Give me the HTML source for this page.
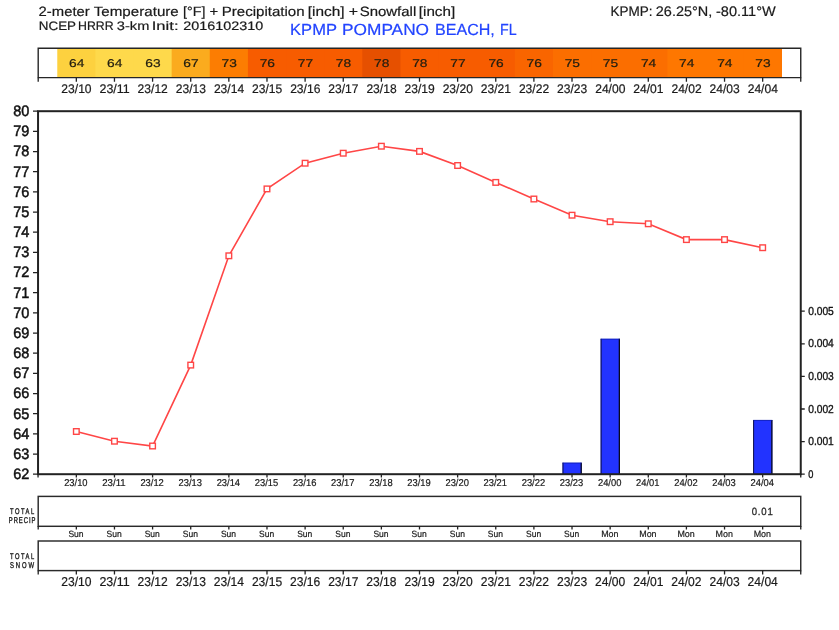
<!DOCTYPE html><html><head><meta charset="utf-8"><style>html,body{margin:0;padding:0;background:#fff;overflow:hidden}svg{display:block;will-change:transform}text{text-rendering:geometricPrecision;font-family:"Liberation Sans",sans-serif}</style></head><body>
<svg width="839" height="630" viewBox="0 0 839 630">
<text x="38.62" y="15.73" font-size="13.48" fill="#1a1a1a" textLength="51.11" lengthAdjust="spacingAndGlyphs" stroke="#1a1a1a" stroke-width="0.2">2-meter</text>
<text x="93.74" y="15.73" font-size="13.48" fill="#1a1a1a" textLength="85.04" lengthAdjust="spacingAndGlyphs" stroke="#1a1a1a" stroke-width="0.2">Temperature</text>
<text x="183.14" y="15.73" font-size="13.48" fill="#1a1a1a" textLength="22.31" lengthAdjust="spacingAndGlyphs" stroke="#1a1a1a" stroke-width="0.2">[°F]</text>
<text x="209.40" y="15.73" font-size="13.48" fill="#1a1a1a" textLength="8.70" lengthAdjust="spacingAndGlyphs" stroke="#1a1a1a" stroke-width="0.2">+</text>
<text x="221.74" y="15.73" font-size="13.48" fill="#1a1a1a" textLength="82.85" lengthAdjust="spacingAndGlyphs" stroke="#1a1a1a" stroke-width="0.2">Precipitation</text>
<text x="307.69" y="15.73" font-size="13.48" fill="#1a1a1a" textLength="36.78" lengthAdjust="spacingAndGlyphs" stroke="#1a1a1a" stroke-width="0.2">[inch]</text>
<text x="348.66" y="15.73" font-size="13.48" fill="#1a1a1a" textLength="9.28" lengthAdjust="spacingAndGlyphs" stroke="#1a1a1a" stroke-width="0.2">+</text>
<text x="359.69" y="15.73" font-size="13.48" fill="#1a1a1a" textLength="56.56" lengthAdjust="spacingAndGlyphs" stroke="#1a1a1a" stroke-width="0.2">Snowfall</text>
<text x="418.82" y="15.73" font-size="13.48" fill="#1a1a1a" textLength="36.31" lengthAdjust="spacingAndGlyphs" stroke="#1a1a1a" stroke-width="0.2">[inch]</text>
<text x="38.87" y="30.18" font-size="12.22" fill="#1a1a1a" textLength="37.20" lengthAdjust="spacingAndGlyphs" stroke="#1a1a1a" stroke-width="0.2">NCEP</text>
<text x="77.98" y="30.18" font-size="12.22" fill="#1a1a1a" textLength="35.63" lengthAdjust="spacingAndGlyphs" stroke="#1a1a1a" stroke-width="0.2">HRRR</text>
<text x="116.87" y="30.18" font-size="12.22" fill="#1a1a1a" textLength="32.45" lengthAdjust="spacingAndGlyphs" stroke="#1a1a1a" stroke-width="0.2">3-km</text>
<text x="151.76" y="30.18" font-size="12.22" fill="#1a1a1a" textLength="26.78" lengthAdjust="spacingAndGlyphs" stroke="#1a1a1a" stroke-width="0.2">Init:</text>
<text x="183.33" y="30.18" font-size="12.22" fill="#1a1a1a" textLength="79.92" lengthAdjust="spacingAndGlyphs" stroke="#1a1a1a" stroke-width="0.2">2016102310</text>
<text x="290.08" y="34.99" font-size="16.10" fill="#2244ff" textLength="46.88" lengthAdjust="spacingAndGlyphs" stroke="#2244ff" stroke-width="0.2">KPMP</text>
<text x="342.06" y="34.99" font-size="16.10" fill="#2244ff" textLength="86.99" lengthAdjust="spacingAndGlyphs" stroke="#2244ff" stroke-width="0.2">POMPANO</text>
<text x="435.02" y="34.99" font-size="16.10" fill="#2244ff" textLength="59.78" lengthAdjust="spacingAndGlyphs" stroke="#2244ff" stroke-width="0.2">BEACH,</text>
<text x="500.06" y="34.99" font-size="16.10" fill="#2244ff" textLength="16.68" lengthAdjust="spacingAndGlyphs" stroke="#2244ff" stroke-width="0.2">FL</text>
<text x="610.48" y="15.99" font-size="13.86" fill="#1a1a1a" textLength="42.10" lengthAdjust="spacingAndGlyphs" stroke="#1a1a1a" stroke-width="0.2">KPMP:</text>
<text x="655.81" y="15.99" font-size="13.86" fill="#1a1a1a" textLength="56.47" lengthAdjust="spacingAndGlyphs" stroke="#1a1a1a" stroke-width="0.2">26.25°N,</text>
<text x="716.02" y="15.99" font-size="13.86" fill="#1a1a1a" textLength="59.71" lengthAdjust="spacingAndGlyphs" stroke="#1a1a1a" stroke-width="0.2">-80.11°W</text>
<rect x="57.27" y="48.5" width="724.47" height="29" fill="#fdd13f"/>
<rect x="95.40" y="48.5" width="686.34" height="29" fill="#fed94b"/>
<rect x="133.53" y="48.5" width="648.21" height="29" fill="#fed94b"/>
<rect x="171.66" y="48.5" width="610.08" height="29" fill="#fbab1e"/>
<rect x="209.79" y="48.5" width="571.95" height="29" fill="#fc7d02"/>
<rect x="247.92" y="48.5" width="533.82" height="29" fill="#f75c00"/>
<rect x="286.05" y="48.5" width="495.69" height="29" fill="#f75c00"/>
<rect x="324.18" y="48.5" width="457.56" height="29" fill="#f75c00"/>
<rect x="362.31" y="48.5" width="419.43" height="29" fill="#e65000"/>
<rect x="400.44" y="48.5" width="381.30" height="29" fill="#f75c00"/>
<rect x="438.56" y="48.5" width="343.17" height="29" fill="#f75c00"/>
<rect x="476.70" y="48.5" width="305.04" height="29" fill="#f75c00"/>
<rect x="514.83" y="48.5" width="266.91" height="29" fill="#f96500"/>
<rect x="552.96" y="48.5" width="228.78" height="29" fill="#fb6e00"/>
<rect x="591.09" y="48.5" width="190.65" height="29" fill="#fb6e00"/>
<rect x="629.22" y="48.5" width="152.52" height="29" fill="#fb6e00"/>
<rect x="667.35" y="48.5" width="114.39" height="29" fill="#fe7700"/>
<rect x="705.48" y="48.5" width="76.26" height="29" fill="#fe7700"/>
<rect x="743.61" y="48.5" width="38.13" height="29" fill="#fe7700"/>
<text x="76.64" y="66.96" font-size="11.33" fill="#221e10" text-anchor="middle" textLength="15.33" lengthAdjust="spacingAndGlyphs" stroke="#221e10" stroke-width="0.2">64</text>
<text x="114.77" y="66.96" font-size="11.33" fill="#221e10" text-anchor="middle" textLength="15.33" lengthAdjust="spacingAndGlyphs" stroke="#221e10" stroke-width="0.2">64</text>
<text x="152.90" y="66.96" font-size="11.33" fill="#221e10" text-anchor="middle" textLength="15.33" lengthAdjust="spacingAndGlyphs" stroke="#221e10" stroke-width="0.2">63</text>
<text x="191.03" y="66.96" font-size="11.33" fill="#221e10" text-anchor="middle" textLength="15.33" lengthAdjust="spacingAndGlyphs" stroke="#221e10" stroke-width="0.2">67</text>
<text x="229.16" y="66.96" font-size="11.33" fill="#221e10" text-anchor="middle" textLength="15.33" lengthAdjust="spacingAndGlyphs" stroke="#221e10" stroke-width="0.2">73</text>
<text x="267.29" y="66.96" font-size="11.33" fill="#221e10" text-anchor="middle" textLength="15.33" lengthAdjust="spacingAndGlyphs" stroke="#221e10" stroke-width="0.2">76</text>
<text x="305.42" y="66.96" font-size="11.33" fill="#221e10" text-anchor="middle" textLength="15.33" lengthAdjust="spacingAndGlyphs" stroke="#221e10" stroke-width="0.2">77</text>
<text x="343.55" y="66.96" font-size="11.33" fill="#221e10" text-anchor="middle" textLength="15.33" lengthAdjust="spacingAndGlyphs" stroke="#221e10" stroke-width="0.2">78</text>
<text x="381.68" y="66.96" font-size="11.33" fill="#221e10" text-anchor="middle" textLength="15.33" lengthAdjust="spacingAndGlyphs" stroke="#221e10" stroke-width="0.2">78</text>
<text x="419.81" y="66.96" font-size="11.33" fill="#221e10" text-anchor="middle" textLength="15.33" lengthAdjust="spacingAndGlyphs" stroke="#221e10" stroke-width="0.2">78</text>
<text x="457.94" y="66.96" font-size="11.33" fill="#221e10" text-anchor="middle" textLength="15.33" lengthAdjust="spacingAndGlyphs" stroke="#221e10" stroke-width="0.2">77</text>
<text x="496.07" y="66.96" font-size="11.33" fill="#221e10" text-anchor="middle" textLength="15.33" lengthAdjust="spacingAndGlyphs" stroke="#221e10" stroke-width="0.2">76</text>
<text x="534.20" y="66.96" font-size="11.33" fill="#221e10" text-anchor="middle" textLength="15.33" lengthAdjust="spacingAndGlyphs" stroke="#221e10" stroke-width="0.2">76</text>
<text x="572.33" y="66.96" font-size="11.33" fill="#221e10" text-anchor="middle" textLength="15.33" lengthAdjust="spacingAndGlyphs" stroke="#221e10" stroke-width="0.2">75</text>
<text x="610.46" y="66.96" font-size="11.33" fill="#221e10" text-anchor="middle" textLength="15.33" lengthAdjust="spacingAndGlyphs" stroke="#221e10" stroke-width="0.2">75</text>
<text x="648.59" y="66.96" font-size="11.33" fill="#221e10" text-anchor="middle" textLength="15.33" lengthAdjust="spacingAndGlyphs" stroke="#221e10" stroke-width="0.2">74</text>
<text x="686.72" y="66.96" font-size="11.33" fill="#221e10" text-anchor="middle" textLength="15.33" lengthAdjust="spacingAndGlyphs" stroke="#221e10" stroke-width="0.2">74</text>
<text x="724.85" y="66.96" font-size="11.33" fill="#221e10" text-anchor="middle" textLength="15.33" lengthAdjust="spacingAndGlyphs" stroke="#221e10" stroke-width="0.2">74</text>
<text x="762.98" y="66.96" font-size="11.33" fill="#221e10" text-anchor="middle" textLength="15.33" lengthAdjust="spacingAndGlyphs" stroke="#221e10" stroke-width="0.2">73</text>
<path d="M38.2 48.3H800.75V77.6H38.2Z" fill="none" stroke="#262626" stroke-width="1.4"/>
<path d="M38.2 77.6V81.7 M800.75 77.6V81.7 M76.33 77.6V81.7 M114.46 77.6V81.7 M152.59 77.6V81.7 M190.72 77.6V81.7 M228.85 77.6V81.7 M266.98 77.6V81.7 M305.11 77.6V81.7 M343.24 77.6V81.7 M381.37 77.6V81.7 M419.50 77.6V81.7 M457.63 77.6V81.7 M495.76 77.6V81.7 M533.89 77.6V81.7 M572.02 77.6V81.7 M610.15 77.6V81.7 M648.28 77.6V81.7 M686.41 77.6V81.7 M724.54 77.6V81.7 M762.67 77.6V81.7 " stroke="#222" stroke-width="1.3" fill="none"/>
<text x="76.47" y="92.72" font-size="12.48" fill="#1a1a1a" text-anchor="middle" textLength="30.22" lengthAdjust="spacingAndGlyphs" stroke="#1a1a1a" stroke-width="0.2">23/10</text>
<text x="114.60" y="92.72" font-size="12.48" fill="#1a1a1a" text-anchor="middle" textLength="30.22" lengthAdjust="spacingAndGlyphs" stroke="#1a1a1a" stroke-width="0.2">23/11</text>
<text x="152.73" y="92.72" font-size="12.48" fill="#1a1a1a" text-anchor="middle" textLength="30.22" lengthAdjust="spacingAndGlyphs" stroke="#1a1a1a" stroke-width="0.2">23/12</text>
<text x="190.86" y="92.72" font-size="12.48" fill="#1a1a1a" text-anchor="middle" textLength="30.22" lengthAdjust="spacingAndGlyphs" stroke="#1a1a1a" stroke-width="0.2">23/13</text>
<text x="228.99" y="92.72" font-size="12.48" fill="#1a1a1a" text-anchor="middle" textLength="30.22" lengthAdjust="spacingAndGlyphs" stroke="#1a1a1a" stroke-width="0.2">23/14</text>
<text x="267.12" y="92.72" font-size="12.48" fill="#1a1a1a" text-anchor="middle" textLength="30.22" lengthAdjust="spacingAndGlyphs" stroke="#1a1a1a" stroke-width="0.2">23/15</text>
<text x="305.25" y="92.72" font-size="12.48" fill="#1a1a1a" text-anchor="middle" textLength="30.22" lengthAdjust="spacingAndGlyphs" stroke="#1a1a1a" stroke-width="0.2">23/16</text>
<text x="343.38" y="92.72" font-size="12.48" fill="#1a1a1a" text-anchor="middle" textLength="30.22" lengthAdjust="spacingAndGlyphs" stroke="#1a1a1a" stroke-width="0.2">23/17</text>
<text x="381.51" y="92.72" font-size="12.48" fill="#1a1a1a" text-anchor="middle" textLength="30.22" lengthAdjust="spacingAndGlyphs" stroke="#1a1a1a" stroke-width="0.2">23/18</text>
<text x="419.64" y="92.72" font-size="12.48" fill="#1a1a1a" text-anchor="middle" textLength="30.22" lengthAdjust="spacingAndGlyphs" stroke="#1a1a1a" stroke-width="0.2">23/19</text>
<text x="457.77" y="92.72" font-size="12.48" fill="#1a1a1a" text-anchor="middle" textLength="30.22" lengthAdjust="spacingAndGlyphs" stroke="#1a1a1a" stroke-width="0.2">23/20</text>
<text x="495.90" y="92.72" font-size="12.48" fill="#1a1a1a" text-anchor="middle" textLength="30.22" lengthAdjust="spacingAndGlyphs" stroke="#1a1a1a" stroke-width="0.2">23/21</text>
<text x="534.03" y="92.72" font-size="12.48" fill="#1a1a1a" text-anchor="middle" textLength="30.22" lengthAdjust="spacingAndGlyphs" stroke="#1a1a1a" stroke-width="0.2">23/22</text>
<text x="572.16" y="92.72" font-size="12.48" fill="#1a1a1a" text-anchor="middle" textLength="30.22" lengthAdjust="spacingAndGlyphs" stroke="#1a1a1a" stroke-width="0.2">23/23</text>
<text x="610.29" y="92.72" font-size="12.48" fill="#1a1a1a" text-anchor="middle" textLength="30.22" lengthAdjust="spacingAndGlyphs" stroke="#1a1a1a" stroke-width="0.2">24/00</text>
<text x="648.42" y="92.72" font-size="12.48" fill="#1a1a1a" text-anchor="middle" textLength="30.22" lengthAdjust="spacingAndGlyphs" stroke="#1a1a1a" stroke-width="0.2">24/01</text>
<text x="686.55" y="92.72" font-size="12.48" fill="#1a1a1a" text-anchor="middle" textLength="30.22" lengthAdjust="spacingAndGlyphs" stroke="#1a1a1a" stroke-width="0.2">24/02</text>
<text x="724.68" y="92.72" font-size="12.48" fill="#1a1a1a" text-anchor="middle" textLength="30.22" lengthAdjust="spacingAndGlyphs" stroke="#1a1a1a" stroke-width="0.2">24/03</text>
<text x="762.81" y="92.72" font-size="12.48" fill="#1a1a1a" text-anchor="middle" textLength="30.22" lengthAdjust="spacingAndGlyphs" stroke="#1a1a1a" stroke-width="0.2">24/04</text>
<rect x="562.52" y="462.70" width="19.10" height="11.50" fill="#2233ff"/>
<path d="M562.97 474.2V462.70" stroke="#0a0a30" stroke-width="0.9" fill="none"/>
<path d="M581.22 474.2V462.70" stroke="#0a0a20" stroke-width="1.3" fill="none"/>
<path d="M562.52 463.05H581.62" stroke="#0b1aa0" stroke-width="0.7" fill="none"/>
<rect x="600.65" y="338.80" width="19.10" height="135.40" fill="#2233ff"/>
<path d="M601.10 474.2V338.80" stroke="#0a0a30" stroke-width="0.9" fill="none"/>
<path d="M619.35 474.2V338.80" stroke="#0a0a20" stroke-width="1.3" fill="none"/>
<path d="M600.65 339.15H619.75" stroke="#0b1aa0" stroke-width="0.7" fill="none"/>
<rect x="753.17" y="420.00" width="19.10" height="54.20" fill="#2233ff"/>
<path d="M753.62 474.2V420.00" stroke="#0a0a30" stroke-width="0.9" fill="none"/>
<path d="M771.87 474.2V420.00" stroke="#0a0a20" stroke-width="1.3" fill="none"/>
<path d="M753.17 420.35H772.27" stroke="#0b1aa0" stroke-width="0.7" fill="none"/>
<polyline points="76.33,431.51 114.46,441.21 152.59,446.01 190.72,365.10 228.85,255.80 266.98,188.90 305.11,163.21 343.24,153.21 381.37,146.21 419.50,151.39 457.63,165.51 495.76,182.41 533.89,199.01 572.02,215.20 610.15,221.69 648.28,223.79 686.41,239.60 724.54,239.60 762.67,247.71" fill="none" stroke="#ff4646" stroke-width="1.6"/>
<rect x="73.53" y="428.71" width="5.6" height="5.6" fill="#fff" stroke="#ff4646" stroke-width="1.4"/>
<rect x="111.66" y="438.41" width="5.6" height="5.6" fill="#fff" stroke="#ff4646" stroke-width="1.4"/>
<rect x="149.79" y="443.21" width="5.6" height="5.6" fill="#fff" stroke="#ff4646" stroke-width="1.4"/>
<rect x="187.92" y="362.30" width="5.6" height="5.6" fill="#fff" stroke="#ff4646" stroke-width="1.4"/>
<rect x="226.05" y="253.00" width="5.6" height="5.6" fill="#fff" stroke="#ff4646" stroke-width="1.4"/>
<rect x="264.18" y="186.10" width="5.6" height="5.6" fill="#fff" stroke="#ff4646" stroke-width="1.4"/>
<rect x="302.31" y="160.41" width="5.6" height="5.6" fill="#fff" stroke="#ff4646" stroke-width="1.4"/>
<rect x="340.44" y="150.41" width="5.6" height="5.6" fill="#fff" stroke="#ff4646" stroke-width="1.4"/>
<rect x="378.57" y="143.41" width="5.6" height="5.6" fill="#fff" stroke="#ff4646" stroke-width="1.4"/>
<rect x="416.70" y="148.59" width="5.6" height="5.6" fill="#fff" stroke="#ff4646" stroke-width="1.4"/>
<rect x="454.83" y="162.71" width="5.6" height="5.6" fill="#fff" stroke="#ff4646" stroke-width="1.4"/>
<rect x="492.96" y="179.61" width="5.6" height="5.6" fill="#fff" stroke="#ff4646" stroke-width="1.4"/>
<rect x="531.09" y="196.21" width="5.6" height="5.6" fill="#fff" stroke="#ff4646" stroke-width="1.4"/>
<rect x="569.22" y="212.40" width="5.6" height="5.6" fill="#fff" stroke="#ff4646" stroke-width="1.4"/>
<rect x="607.35" y="218.89" width="5.6" height="5.6" fill="#fff" stroke="#ff4646" stroke-width="1.4"/>
<rect x="645.48" y="220.99" width="5.6" height="5.6" fill="#fff" stroke="#ff4646" stroke-width="1.4"/>
<rect x="683.61" y="236.80" width="5.6" height="5.6" fill="#fff" stroke="#ff4646" stroke-width="1.4"/>
<rect x="721.74" y="236.80" width="5.6" height="5.6" fill="#fff" stroke="#ff4646" stroke-width="1.4"/>
<rect x="759.87" y="244.91" width="5.6" height="5.6" fill="#fff" stroke="#ff4646" stroke-width="1.4"/>
<rect x="38.05" y="111.2" width="762.70" height="363.00" fill="none" stroke="#222" stroke-width="2"/>
<path d="M33.0 474.20H38.1 M33.0 454.03H38.1 M33.0 433.87H38.1 M33.0 413.70H38.1 M33.0 393.53H38.1 M33.0 373.37H38.1 M33.0 353.20H38.1 M33.0 333.03H38.1 M33.0 312.87H38.1 M33.0 292.70H38.1 M33.0 272.53H38.1 M33.0 252.37H38.1 M33.0 232.20H38.1 M33.0 212.03H38.1 M33.0 191.87H38.1 M33.0 171.70H38.1 M33.0 151.53H38.1 M33.0 131.37H38.1 M33.0 111.20H38.1 M800.75 474.20H804.75 M800.75 441.60H804.75 M800.75 409.00H804.75 M800.75 376.40H804.75 M800.75 343.80H804.75 M800.75 311.20H804.75 M76.33 474.2V477.6 M114.46 474.2V477.6 M152.59 474.2V477.6 M190.72 474.2V477.6 M228.85 474.2V477.6 M266.98 474.2V477.6 M305.11 474.2V477.6 M343.24 474.2V477.6 M381.37 474.2V477.6 M419.50 474.2V477.6 M457.63 474.2V477.6 M495.76 474.2V477.6 M533.89 474.2V477.6 M572.02 474.2V477.6 M610.15 474.2V477.6 M648.28 474.2V477.6 M686.41 474.2V477.6 M724.54 474.2V477.6 M762.67 474.2V477.6 M38.05 474.2V477.6 M800.75 474.2V477.6" stroke="#222" stroke-width="1.3" fill="none"/>
<text x="29.44" y="479.08" font-size="15.23" fill="#111" text-anchor="end" textLength="16.13" lengthAdjust="spacingAndGlyphs" stroke="#111" stroke-width="0.5">62</text>
<text x="29.44" y="458.91" font-size="15.23" fill="#111" text-anchor="end" textLength="16.13" lengthAdjust="spacingAndGlyphs" stroke="#111" stroke-width="0.5">63</text>
<text x="29.44" y="438.75" font-size="15.23" fill="#111" text-anchor="end" textLength="16.13" lengthAdjust="spacingAndGlyphs" stroke="#111" stroke-width="0.5">64</text>
<text x="29.44" y="418.58" font-size="15.23" fill="#111" text-anchor="end" textLength="16.13" lengthAdjust="spacingAndGlyphs" stroke="#111" stroke-width="0.5">65</text>
<text x="29.44" y="398.41" font-size="15.23" fill="#111" text-anchor="end" textLength="16.13" lengthAdjust="spacingAndGlyphs" stroke="#111" stroke-width="0.5">66</text>
<text x="29.44" y="378.25" font-size="15.23" fill="#111" text-anchor="end" textLength="16.13" lengthAdjust="spacingAndGlyphs" stroke="#111" stroke-width="0.5">67</text>
<text x="29.44" y="358.08" font-size="15.23" fill="#111" text-anchor="end" textLength="16.13" lengthAdjust="spacingAndGlyphs" stroke="#111" stroke-width="0.5">68</text>
<text x="29.44" y="337.91" font-size="15.23" fill="#111" text-anchor="end" textLength="16.13" lengthAdjust="spacingAndGlyphs" stroke="#111" stroke-width="0.5">69</text>
<text x="29.44" y="317.75" font-size="15.23" fill="#111" text-anchor="end" textLength="16.13" lengthAdjust="spacingAndGlyphs" stroke="#111" stroke-width="0.5">70</text>
<text x="29.44" y="297.58" font-size="15.23" fill="#111" text-anchor="end" textLength="16.13" lengthAdjust="spacingAndGlyphs" stroke="#111" stroke-width="0.5">71</text>
<text x="29.44" y="277.41" font-size="15.23" fill="#111" text-anchor="end" textLength="16.13" lengthAdjust="spacingAndGlyphs" stroke="#111" stroke-width="0.5">72</text>
<text x="29.44" y="257.25" font-size="15.23" fill="#111" text-anchor="end" textLength="16.13" lengthAdjust="spacingAndGlyphs" stroke="#111" stroke-width="0.5">73</text>
<text x="29.44" y="237.08" font-size="15.23" fill="#111" text-anchor="end" textLength="16.13" lengthAdjust="spacingAndGlyphs" stroke="#111" stroke-width="0.5">74</text>
<text x="29.44" y="216.91" font-size="15.23" fill="#111" text-anchor="end" textLength="16.13" lengthAdjust="spacingAndGlyphs" stroke="#111" stroke-width="0.5">75</text>
<text x="29.44" y="196.75" font-size="15.23" fill="#111" text-anchor="end" textLength="16.13" lengthAdjust="spacingAndGlyphs" stroke="#111" stroke-width="0.5">76</text>
<text x="29.44" y="176.58" font-size="15.23" fill="#111" text-anchor="end" textLength="16.13" lengthAdjust="spacingAndGlyphs" stroke="#111" stroke-width="0.5">77</text>
<text x="29.44" y="156.41" font-size="15.23" fill="#111" text-anchor="end" textLength="16.13" lengthAdjust="spacingAndGlyphs" stroke="#111" stroke-width="0.5">78</text>
<text x="29.44" y="136.25" font-size="15.23" fill="#111" text-anchor="end" textLength="16.13" lengthAdjust="spacingAndGlyphs" stroke="#111" stroke-width="0.5">79</text>
<text x="29.44" y="116.08" font-size="15.23" fill="#111" text-anchor="end" textLength="16.13" lengthAdjust="spacingAndGlyphs" stroke="#111" stroke-width="0.5">80</text>
<text x="808.19" y="477.71" font-size="11.07" fill="#111" textLength="5.15" lengthAdjust="spacingAndGlyphs" stroke="#111" stroke-width="0.35">0</text>
<text x="808.20" y="445.25" font-size="11.57" fill="#111" textLength="25.59" lengthAdjust="spacingAndGlyphs" stroke="#111" stroke-width="0.35">0.001</text>
<text x="808.20" y="412.65" font-size="11.57" fill="#111" textLength="25.59" lengthAdjust="spacingAndGlyphs" stroke="#111" stroke-width="0.35">0.002</text>
<text x="808.20" y="380.05" font-size="11.57" fill="#111" textLength="25.59" lengthAdjust="spacingAndGlyphs" stroke="#111" stroke-width="0.35">0.003</text>
<text x="808.20" y="347.45" font-size="11.57" fill="#111" textLength="25.59" lengthAdjust="spacingAndGlyphs" stroke="#111" stroke-width="0.35">0.004</text>
<text x="808.20" y="314.85" font-size="11.57" fill="#111" textLength="25.59" lengthAdjust="spacingAndGlyphs" stroke="#111" stroke-width="0.35">0.005</text>
<text x="75.86" y="485.62" font-size="9.90" fill="#1a1a1a" text-anchor="middle" textLength="23.45" lengthAdjust="spacingAndGlyphs" stroke="#1a1a1a" stroke-width="0.2">23/10</text>
<text x="113.99" y="485.62" font-size="9.90" fill="#1a1a1a" text-anchor="middle" textLength="23.45" lengthAdjust="spacingAndGlyphs" stroke="#1a1a1a" stroke-width="0.2">23/11</text>
<text x="152.12" y="485.62" font-size="9.90" fill="#1a1a1a" text-anchor="middle" textLength="23.45" lengthAdjust="spacingAndGlyphs" stroke="#1a1a1a" stroke-width="0.2">23/12</text>
<text x="190.25" y="485.62" font-size="9.90" fill="#1a1a1a" text-anchor="middle" textLength="23.45" lengthAdjust="spacingAndGlyphs" stroke="#1a1a1a" stroke-width="0.2">23/13</text>
<text x="228.38" y="485.62" font-size="9.90" fill="#1a1a1a" text-anchor="middle" textLength="23.45" lengthAdjust="spacingAndGlyphs" stroke="#1a1a1a" stroke-width="0.2">23/14</text>
<text x="266.51" y="485.62" font-size="9.90" fill="#1a1a1a" text-anchor="middle" textLength="23.45" lengthAdjust="spacingAndGlyphs" stroke="#1a1a1a" stroke-width="0.2">23/15</text>
<text x="304.64" y="485.62" font-size="9.90" fill="#1a1a1a" text-anchor="middle" textLength="23.45" lengthAdjust="spacingAndGlyphs" stroke="#1a1a1a" stroke-width="0.2">23/16</text>
<text x="342.77" y="485.62" font-size="9.90" fill="#1a1a1a" text-anchor="middle" textLength="23.45" lengthAdjust="spacingAndGlyphs" stroke="#1a1a1a" stroke-width="0.2">23/17</text>
<text x="380.90" y="485.62" font-size="9.90" fill="#1a1a1a" text-anchor="middle" textLength="23.45" lengthAdjust="spacingAndGlyphs" stroke="#1a1a1a" stroke-width="0.2">23/18</text>
<text x="419.03" y="485.62" font-size="9.90" fill="#1a1a1a" text-anchor="middle" textLength="23.45" lengthAdjust="spacingAndGlyphs" stroke="#1a1a1a" stroke-width="0.2">23/19</text>
<text x="457.16" y="485.62" font-size="9.90" fill="#1a1a1a" text-anchor="middle" textLength="23.45" lengthAdjust="spacingAndGlyphs" stroke="#1a1a1a" stroke-width="0.2">23/20</text>
<text x="495.29" y="485.62" font-size="9.90" fill="#1a1a1a" text-anchor="middle" textLength="23.45" lengthAdjust="spacingAndGlyphs" stroke="#1a1a1a" stroke-width="0.2">23/21</text>
<text x="533.42" y="485.62" font-size="9.90" fill="#1a1a1a" text-anchor="middle" textLength="23.45" lengthAdjust="spacingAndGlyphs" stroke="#1a1a1a" stroke-width="0.2">23/22</text>
<text x="571.55" y="485.62" font-size="9.90" fill="#1a1a1a" text-anchor="middle" textLength="23.45" lengthAdjust="spacingAndGlyphs" stroke="#1a1a1a" stroke-width="0.2">23/23</text>
<text x="609.68" y="485.62" font-size="9.90" fill="#1a1a1a" text-anchor="middle" textLength="23.45" lengthAdjust="spacingAndGlyphs" stroke="#1a1a1a" stroke-width="0.2">24/00</text>
<text x="647.81" y="485.62" font-size="9.90" fill="#1a1a1a" text-anchor="middle" textLength="23.45" lengthAdjust="spacingAndGlyphs" stroke="#1a1a1a" stroke-width="0.2">24/01</text>
<text x="685.94" y="485.62" font-size="9.90" fill="#1a1a1a" text-anchor="middle" textLength="23.45" lengthAdjust="spacingAndGlyphs" stroke="#1a1a1a" stroke-width="0.2">24/02</text>
<text x="724.07" y="485.62" font-size="9.90" fill="#1a1a1a" text-anchor="middle" textLength="23.45" lengthAdjust="spacingAndGlyphs" stroke="#1a1a1a" stroke-width="0.2">24/03</text>
<text x="762.20" y="485.62" font-size="9.90" fill="#1a1a1a" text-anchor="middle" textLength="23.45" lengthAdjust="spacingAndGlyphs" stroke="#1a1a1a" stroke-width="0.2">24/04</text>
<rect x="38.2" y="496.4" width="762.55" height="29.90" fill="none" stroke="#2a2a2a" stroke-width="1.45"/>
<rect x="38.2" y="541.0" width="762.55" height="29.60" fill="none" stroke="#2a2a2a" stroke-width="1.45"/>
<path d="M38.2 526V529.4 M800.75 526V529.4 M38.2 570.6V574.6 M800.75 570.6V574.6 M76.33 526V529.4 M76.33 570.6V574.6 M114.46 526V529.4 M114.46 570.6V574.6 M152.59 526V529.4 M152.59 570.6V574.6 M190.72 526V529.4 M190.72 570.6V574.6 M228.85 526V529.4 M228.85 570.6V574.6 M266.98 526V529.4 M266.98 570.6V574.6 M305.11 526V529.4 M305.11 570.6V574.6 M343.24 526V529.4 M343.24 570.6V574.6 M381.37 526V529.4 M381.37 570.6V574.6 M419.50 526V529.4 M419.50 570.6V574.6 M457.63 526V529.4 M457.63 570.6V574.6 M495.76 526V529.4 M495.76 570.6V574.6 M533.89 526V529.4 M533.89 570.6V574.6 M572.02 526V529.4 M572.02 570.6V574.6 M610.15 526V529.4 M610.15 570.6V574.6 M648.28 526V529.4 M648.28 570.6V574.6 M686.41 526V529.4 M686.41 570.6V574.6 M724.54 526V529.4 M724.54 570.6V574.6 M762.67 526V529.4 M762.67 570.6V574.6 " stroke="#222" stroke-width="1.3" fill="none"/>
<text x="75.99" y="537.42" font-size="9.11" fill="#1a1a1a" text-anchor="middle" textLength="15.17" lengthAdjust="spacingAndGlyphs" stroke="#1a1a1a" stroke-width="0.2">Sun</text>
<text x="76.38" y="585.79" font-size="12.84" fill="#1a1a1a" text-anchor="middle" textLength="30.27" lengthAdjust="spacingAndGlyphs" stroke="#1a1a1a" stroke-width="0.2">23/10</text>
<text x="114.12" y="537.42" font-size="9.11" fill="#1a1a1a" text-anchor="middle" textLength="15.17" lengthAdjust="spacingAndGlyphs" stroke="#1a1a1a" stroke-width="0.2">Sun</text>
<text x="114.51" y="585.79" font-size="12.84" fill="#1a1a1a" text-anchor="middle" textLength="30.27" lengthAdjust="spacingAndGlyphs" stroke="#1a1a1a" stroke-width="0.2">23/11</text>
<text x="152.25" y="537.42" font-size="9.11" fill="#1a1a1a" text-anchor="middle" textLength="15.17" lengthAdjust="spacingAndGlyphs" stroke="#1a1a1a" stroke-width="0.2">Sun</text>
<text x="152.64" y="585.79" font-size="12.84" fill="#1a1a1a" text-anchor="middle" textLength="30.27" lengthAdjust="spacingAndGlyphs" stroke="#1a1a1a" stroke-width="0.2">23/12</text>
<text x="190.38" y="537.42" font-size="9.11" fill="#1a1a1a" text-anchor="middle" textLength="15.17" lengthAdjust="spacingAndGlyphs" stroke="#1a1a1a" stroke-width="0.2">Sun</text>
<text x="190.77" y="585.79" font-size="12.84" fill="#1a1a1a" text-anchor="middle" textLength="30.27" lengthAdjust="spacingAndGlyphs" stroke="#1a1a1a" stroke-width="0.2">23/13</text>
<text x="228.51" y="537.42" font-size="9.11" fill="#1a1a1a" text-anchor="middle" textLength="15.17" lengthAdjust="spacingAndGlyphs" stroke="#1a1a1a" stroke-width="0.2">Sun</text>
<text x="228.90" y="585.79" font-size="12.84" fill="#1a1a1a" text-anchor="middle" textLength="30.27" lengthAdjust="spacingAndGlyphs" stroke="#1a1a1a" stroke-width="0.2">23/14</text>
<text x="266.64" y="537.42" font-size="9.11" fill="#1a1a1a" text-anchor="middle" textLength="15.17" lengthAdjust="spacingAndGlyphs" stroke="#1a1a1a" stroke-width="0.2">Sun</text>
<text x="267.03" y="585.79" font-size="12.84" fill="#1a1a1a" text-anchor="middle" textLength="30.27" lengthAdjust="spacingAndGlyphs" stroke="#1a1a1a" stroke-width="0.2">23/15</text>
<text x="304.77" y="537.42" font-size="9.11" fill="#1a1a1a" text-anchor="middle" textLength="15.17" lengthAdjust="spacingAndGlyphs" stroke="#1a1a1a" stroke-width="0.2">Sun</text>
<text x="305.16" y="585.79" font-size="12.84" fill="#1a1a1a" text-anchor="middle" textLength="30.27" lengthAdjust="spacingAndGlyphs" stroke="#1a1a1a" stroke-width="0.2">23/16</text>
<text x="342.90" y="537.42" font-size="9.11" fill="#1a1a1a" text-anchor="middle" textLength="15.17" lengthAdjust="spacingAndGlyphs" stroke="#1a1a1a" stroke-width="0.2">Sun</text>
<text x="343.29" y="585.79" font-size="12.84" fill="#1a1a1a" text-anchor="middle" textLength="30.27" lengthAdjust="spacingAndGlyphs" stroke="#1a1a1a" stroke-width="0.2">23/17</text>
<text x="381.03" y="537.42" font-size="9.11" fill="#1a1a1a" text-anchor="middle" textLength="15.17" lengthAdjust="spacingAndGlyphs" stroke="#1a1a1a" stroke-width="0.2">Sun</text>
<text x="381.42" y="585.79" font-size="12.84" fill="#1a1a1a" text-anchor="middle" textLength="30.27" lengthAdjust="spacingAndGlyphs" stroke="#1a1a1a" stroke-width="0.2">23/18</text>
<text x="419.16" y="537.42" font-size="9.11" fill="#1a1a1a" text-anchor="middle" textLength="15.17" lengthAdjust="spacingAndGlyphs" stroke="#1a1a1a" stroke-width="0.2">Sun</text>
<text x="419.55" y="585.79" font-size="12.84" fill="#1a1a1a" text-anchor="middle" textLength="30.27" lengthAdjust="spacingAndGlyphs" stroke="#1a1a1a" stroke-width="0.2">23/19</text>
<text x="457.29" y="537.42" font-size="9.11" fill="#1a1a1a" text-anchor="middle" textLength="15.17" lengthAdjust="spacingAndGlyphs" stroke="#1a1a1a" stroke-width="0.2">Sun</text>
<text x="457.68" y="585.79" font-size="12.84" fill="#1a1a1a" text-anchor="middle" textLength="30.27" lengthAdjust="spacingAndGlyphs" stroke="#1a1a1a" stroke-width="0.2">23/20</text>
<text x="495.42" y="537.42" font-size="9.11" fill="#1a1a1a" text-anchor="middle" textLength="15.17" lengthAdjust="spacingAndGlyphs" stroke="#1a1a1a" stroke-width="0.2">Sun</text>
<text x="495.81" y="585.79" font-size="12.84" fill="#1a1a1a" text-anchor="middle" textLength="30.27" lengthAdjust="spacingAndGlyphs" stroke="#1a1a1a" stroke-width="0.2">23/21</text>
<text x="533.55" y="537.42" font-size="9.11" fill="#1a1a1a" text-anchor="middle" textLength="15.17" lengthAdjust="spacingAndGlyphs" stroke="#1a1a1a" stroke-width="0.2">Sun</text>
<text x="533.94" y="585.79" font-size="12.84" fill="#1a1a1a" text-anchor="middle" textLength="30.27" lengthAdjust="spacingAndGlyphs" stroke="#1a1a1a" stroke-width="0.2">23/22</text>
<text x="571.68" y="537.42" font-size="9.11" fill="#1a1a1a" text-anchor="middle" textLength="15.17" lengthAdjust="spacingAndGlyphs" stroke="#1a1a1a" stroke-width="0.2">Sun</text>
<text x="572.07" y="585.79" font-size="12.84" fill="#1a1a1a" text-anchor="middle" textLength="30.27" lengthAdjust="spacingAndGlyphs" stroke="#1a1a1a" stroke-width="0.2">23/23</text>
<text x="609.79" y="537.27" font-size="9.19" fill="#1a1a1a" text-anchor="middle" textLength="17.32" lengthAdjust="spacingAndGlyphs" stroke="#1a1a1a" stroke-width="0.2">Mon</text>
<text x="610.20" y="585.79" font-size="12.84" fill="#1a1a1a" text-anchor="middle" textLength="30.27" lengthAdjust="spacingAndGlyphs" stroke="#1a1a1a" stroke-width="0.2">24/00</text>
<text x="647.92" y="537.27" font-size="9.19" fill="#1a1a1a" text-anchor="middle" textLength="17.32" lengthAdjust="spacingAndGlyphs" stroke="#1a1a1a" stroke-width="0.2">Mon</text>
<text x="648.33" y="585.79" font-size="12.84" fill="#1a1a1a" text-anchor="middle" textLength="30.27" lengthAdjust="spacingAndGlyphs" stroke="#1a1a1a" stroke-width="0.2">24/01</text>
<text x="686.05" y="537.27" font-size="9.19" fill="#1a1a1a" text-anchor="middle" textLength="17.32" lengthAdjust="spacingAndGlyphs" stroke="#1a1a1a" stroke-width="0.2">Mon</text>
<text x="686.46" y="585.79" font-size="12.84" fill="#1a1a1a" text-anchor="middle" textLength="30.27" lengthAdjust="spacingAndGlyphs" stroke="#1a1a1a" stroke-width="0.2">24/02</text>
<text x="724.18" y="537.27" font-size="9.19" fill="#1a1a1a" text-anchor="middle" textLength="17.32" lengthAdjust="spacingAndGlyphs" stroke="#1a1a1a" stroke-width="0.2">Mon</text>
<text x="724.59" y="585.79" font-size="12.84" fill="#1a1a1a" text-anchor="middle" textLength="30.27" lengthAdjust="spacingAndGlyphs" stroke="#1a1a1a" stroke-width="0.2">24/03</text>
<text x="762.31" y="537.27" font-size="9.19" fill="#1a1a1a" text-anchor="middle" textLength="17.32" lengthAdjust="spacingAndGlyphs" stroke="#1a1a1a" stroke-width="0.2">Mon</text>
<text x="762.72" y="585.79" font-size="12.84" fill="#1a1a1a" text-anchor="middle" textLength="30.27" lengthAdjust="spacingAndGlyphs" stroke="#1a1a1a" stroke-width="0.2">24/04</text>
<text transform="translate(762.21,514.58) scale(0.92,1)" x="0" y="0" font-size="10.41" fill="#2a2a2a" text-anchor="middle" textLength="22.89" lengthAdjust="spacing" stroke="#2a2a2a" stroke-width="0.3">0.01</text>
<text transform="translate(10.02,514.09) scale(0.7,1)" x="0" y="0" font-size="8.25" fill="#222" textLength="34.49" lengthAdjust="spacing" stroke="#222" stroke-width="0.4">TOTAL</text>
<text transform="translate(8.85,522.52) scale(0.7,1)" x="0" y="0" font-size="8.35" fill="#222" textLength="37.92" lengthAdjust="spacing" stroke="#222" stroke-width="0.4">PRECIP</text>
<text transform="translate(9.98,558.85) scale(0.7,1)" x="0" y="0" font-size="8.25" fill="#222" textLength="34.50" lengthAdjust="spacing" stroke="#222" stroke-width="0.4">TOTAL</text>
<text transform="translate(10.02,567.89) scale(0.7,1)" x="0" y="0" font-size="8.46" fill="#222" textLength="34.31" lengthAdjust="spacing" stroke="#222" stroke-width="0.4">SNOW</text>
</svg></body></html>
